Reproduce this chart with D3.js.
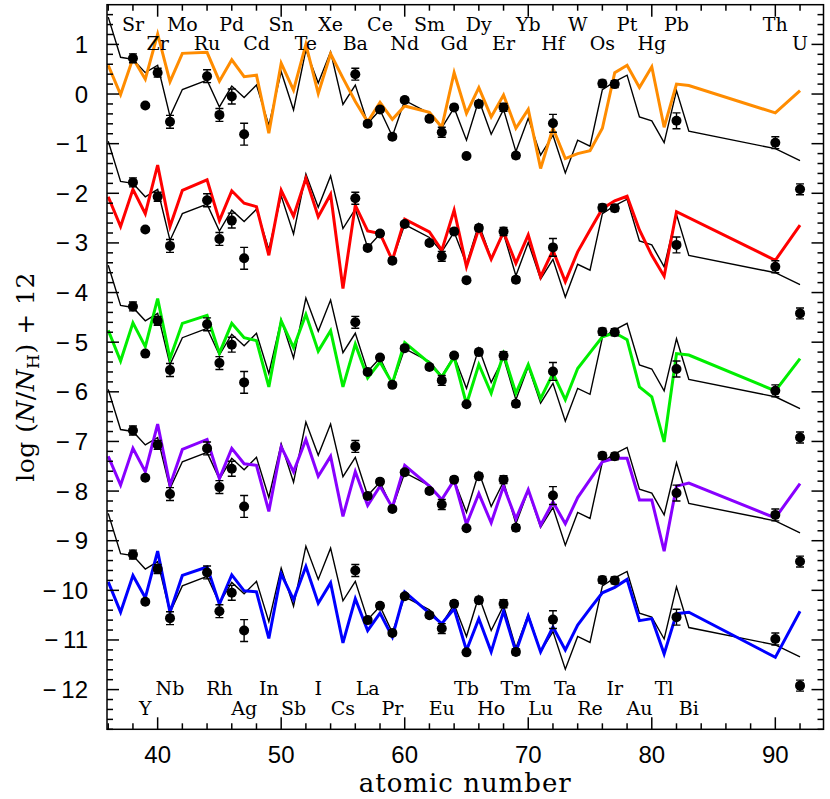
<!DOCTYPE html>
<html>
<head>
    <meta charset="utf-8">
    <style>
        body { margin: 0; background: #fff; }
    </style>
</head>
<body>
    <script src="https://d3js.org/d3.v7.min.js"></script>
    <div id="canvas"></div>

    <script type="text/javascript">

        // element labels along the top and bottom of the frame
        var labelsTop1 = [[38, "Sr"], [42, "Mo"], [46, "Pd"], [50, "Sn"], [54, "Xe"], [58, "Ce"], [62, "Sm"],
                          [66, "Dy"], [70, "Yb"], [74, "W"], [78, "Pt"], [82, "Pb"], [90, "Th"]];
        var labelsTop2 = [[40, "Zr"], [44, "Ru"], [48, "Cd"], [52, "Te"], [56, "Ba"], [60, "Nd"], [64, "Gd"],
                          [68, "Er"], [72, "Hf"], [76, "Os"], [80, "Hg"], [92, "U"]];
        var labelsBot1 = [[41, "Nb"], [45, "Rh"], [49, "In"], [53, "I"], [57, "La"], [65, "Tb"], [69, "Tm"],
                          [73, "Ta"], [77, "Ir"], [81, "Tl"]];
        var labelsBot2 = [[39, "Y"], [47, "Ag"], [51, "Sb"], [55, "Cs"], [59, "Pr"], [63, "Eu"], [67, "Ho"],
                          [71, "Lu"], [75, "Re"], [79, "Au"], [83, "Bi"]];

        // observed abundances (top panel values, others shifted by -2.5 each)
        var obsZ   = [38, 39, 40, 41, 44, 45, 46, 47, 56, 57, 58, 59, 60, 62, 63, 64, 65, 66, 68, 69, 72, 76, 77, 82, 90, 92];
        var obsVal = [0.72, -0.23, 0.43, -0.56, 0.36, -0.42, -0.05, -0.81, 0.40, -0.60, -0.31, -0.86, -0.12, -0.50,
                      -0.77, -0.27, -1.25, -0.20, -0.27, -1.24, -0.59, 0.21, 0.20, -0.54, -0.98, -1.92];
        var obsErr = [0.09, 0, 0.09, 0.13, 0.13, 0.13, 0.15, 0.22, 0.12, 0.05, 0.05, 0.05, 0.05, 0.05,
                      0.10, 0.06, 0, 0.06, 0.08, 0.06, 0.18, 0.07, 0.07, 0.16, 0.12, 0.11];

        // atomic numbers of the model curves
        var lineZ = [36, 37, 38, 39, 40, 41, 42, 44, 45, 46, 47, 48, 49, 50, 51, 52, 53, 54, 55, 56, 57, 58, 59, 60,
                     62, 63, 64, 65, 66, 67, 68, 69, 70, 71, 72, 73, 74, 75, 76, 77, 78, 79, 80, 81, 82, 83, 90, 92];

        // scaled solar r-process pattern (thin black line)
        var solarR = [1.55, 0.74, 0.70, 0.43, 0.58, -0.45, 0.09, 0.28, -0.26, 0.16, -0.07, 0.18, -0.63, 0.45, -0.32, 0.89,
                      0.22, 0.85, -0.21, 0.18, -0.59, -0.32, -0.85, -0.13, -0.39, -0.68, -0.28, -0.93, -0.12, -0.81,
                      -0.31, -1.16, -0.49, -1.23, -0.83, -1.59, -0.93, -1.05, 0.09, 0.25, 0.38, -0.46, -0.54, -0.98,
                      0.07, -0.75, -1.10, -1.34];

        // model curves (values before the -2.5 per panel shift)
        var modelOrange = [0.58, -0.01, 0.72, 0.30, 1.21, 0.25, 0.82, 0.84, 0.26, 0.69, 0.35, 0.38, -0.79, 0.62, 0.08, 1.00,
                           0.01, 0.81, 0.32, -0.15, -0.56, -0.17, -0.51, -0.24, -0.37, -0.67, 0.43, -0.39, 0.13, -0.46,
                           -0.02, -0.69, -0.31, -1.50, -0.69, -1.30, -1.20, -1.14, -0.69, 0.43, 0.58, 0.13, 0.55, -0.67,
                           0.20, 0.17, -0.38, 0.07];
        var modelRed = [0.43, -0.17, 0.58, 0.09, 1.07, -0.17, 0.56, 0.77, -0.05, 0.55, 0.30, 0.23, -0.75, 0.56, 0.04, 0.80,
                        0.03, 0.48, -1.42, 0.26, -0.26, -0.31, -0.85, -0.02, -0.28, -0.65, 0.16, -0.98, -0.21, -0.83,
                        -0.28, -0.91, -0.34, -1.18, -0.65, -1.28, -0.68, -0.24, 0.19, 0.35, 0.44, -0.24, -0.75, -1.17,
                        0.13, null, -0.85, -0.14];
        var modelGreen = [0.24, -0.38, 0.39, -0.09, 0.88, -0.33, 0.38, 0.54, -0.22, 0.38, 0.09, 0.03, -0.90, 0.43, -0.11, 0.56,
                          -0.18, 0.23, -0.90, -0.04, -0.72, -0.40, -0.83, -0.01, -0.42, -0.70, -0.30, -1.25, -0.45, -1.03,
                          -0.24, -1.03, -0.45, -1.14, -0.63, -1.16, -0.53, -0.21, 0.11, 0.19, 0.05, -0.90, -1.10, -2.01,
                          -0.23, -0.26, -0.98, -0.33];
        var modelPurple = [0.20, -0.38, 0.36, -0.11, 0.85, -0.38, 0.34, 0.54, -0.25, 0.36, 0.05, 0.02, -0.91, 0.39, -0.11, 0.54,
                           -0.20, 0.20, -1.01, -0.11, -0.79, -0.40, -0.83, 0.02, -0.40, -0.67, -0.28, -1.17, -0.55, -1.14,
                           -0.40, -1.06, -0.47, -1.19, -0.72, -1.16, -0.63, -0.27, 0.09, 0.16, 0.16, -0.68, -0.68, -1.71,
                           -0.40, -0.34, -1.04, -0.35];
        var modelBlue = [0.17, -0.44, 0.30, -0.15, 0.79, -0.44, 0.30, 0.47, -0.28, 0.31, -0.01, -0.03, -0.97, 0.33, -0.19, 0.48,
                         -0.26, 0.15, -1.06, -0.17, -0.81, -0.46, -0.94, -0.03, -0.46, -0.67, -0.37, -1.21, -0.57, -1.24,
                         -0.42, -1.24, -0.52, -1.24, -0.74, -1.20, -0.70, -0.37, -0.05, 0.06, 0.22, -0.61, -0.57, -1.28,
                         -0.47, -0.44, -1.35, -0.42];

        var models = [modelOrange, modelRed, modelGreen, modelPurple, modelBlue];
        var modelColors = ["#ff8c00", "#ff0000", "#00ee00", "#8800ff", "#0000ff"];
        var panelShift = -2.5;

        var xTicks = [40, 50, 60, 70, 80, 90];
        var yTicks = [1, 0, -1, -2, -3, -4, -5, -6, -7, -8, -9, -10, -11, -12];

        var width = 830, height = 799;
        var frame = {left: 107, right: 823.5, top: 4.7, bottom: 729.3};

        var svg = d3.select("#canvas")
                    .append("svg")
                    .attr("width", width)
                    .attr("height", height);

        var xscale = d3.scaleLinear().domain([35.9, 93.9]).range([frame.left, frame.right]);
        var yscale = d3.scaleLinear().domain([-12.8, 1.8]).range([frame.bottom, frame.top]);

        svg.append("clipPath").attr("id", "plotclip")
            .append("rect")
            .attr("x", frame.left).attr("y", frame.top)
            .attr("width", frame.right - frame.left).attr("height", frame.bottom - frame.top);

        var plot = svg.append("g").attr("clip-path", "url(#plotclip)");

        function rows(vals, shift) {
            var out = [];
            for (var i = 0; i < lineZ.length; i++) {
                if (vals[i] != null) out.push([lineZ[i], vals[i] + shift]);
            }
            return out;
        }

        var line = d3.line()
                    .x(function(d){ return xscale(d[0]); })
                    .y(function(d){ return yscale(d[1]); });

        // draw the five panels
        for (var k = 0; k < 5; k++) {
            var shift = panelShift * k;

            plot.append("path")
                .attr("d", line(rows(solarR, shift)))
                .attr("fill", "none")
                .attr("stroke", "black")
                .attr("stroke-width", 1.4)
                .attr("stroke-linejoin", "miter");

            plot.append("path")
                .attr("d", line(rows(models[k], shift)))
                .attr("fill", "none")
                .attr("stroke", modelColors[k])
                .attr("stroke-width", 3)
                .attr("stroke-linejoin", "miter");

            var obs = obsZ.map(function(z, i){ return [z, obsVal[i] + shift, obsErr[i]]; });
            var g = plot.append("g");
            g.selectAll(".eb")
                .data(obs.filter(function(d){ return d[2] > 0; }))
                .enter()
                .append("path")
                .attr("d", function(d){
                    var x = xscale(d[0]), y1 = yscale(d[1] + d[2]), y2 = yscale(d[1] - d[2]);
                    return "M" + (x - 4) + "," + y1 + "H" + (x + 4) + "M" + x + "," + y1 + "V" + y2 +
                           "M" + (x - 4) + "," + y2 + "H" + (x + 4);
                })
                .attr("stroke", "black")
                .attr("stroke-width", 1.4)
                .attr("fill", "none");
            g.selectAll("circle")
                .data(obs)
                .enter()
                .append("circle")
                .attr("cx", function(d){ return xscale(d[0]); })
                .attr("cy", function(d){ return yscale(d[1]); })
                .attr("r", 5)
                .attr("fill", "black");
        }

        // frame and ticks (inward, on all four sides)
        var axes = svg.append("g").attr("stroke", "black").attr("stroke-width", 1.5);
        d3.range(36, 94, 2).forEach(function(z){
            var len = (z % 10 == 0) ? 12 : 6;
            axes.append("line").attr("x1", xscale(z)).attr("x2", xscale(z))
                .attr("y1", frame.bottom).attr("y2", frame.bottom - len);
            axes.append("line").attr("x1", xscale(z)).attr("x2", xscale(z))
                .attr("y1", frame.top).attr("y2", frame.top + len);
        });
        d3.range(-64, 9).map(function(i){ return i / 5; }).forEach(function(v){
            var len = (Math.abs(v - Math.round(v)) < 1e-6) ? 12 : 6;
            axes.append("line").attr("x1", frame.left).attr("x2", frame.left + len)
                .attr("y1", yscale(v)).attr("y2", yscale(v));
            axes.append("line").attr("x1", frame.right).attr("x2", frame.right - len)
                .attr("y1", yscale(v)).attr("y2", yscale(v));
        });
        svg.append("rect")
            .attr("x", frame.left).attr("y", frame.top)
            .attr("width", frame.right - frame.left).attr("height", frame.bottom - frame.top)
            .attr("fill", "none")
            .attr("stroke", "black")
            .attr("stroke-width", 1.5);

        // tick labels
        svg.selectAll(".xt")
            .data(xTicks)
            .enter()
            .append("text")
            .attr("x", function(d){ return xscale(d); })
            .attr("y", 763)
            .attr("text-anchor", "middle")
            .style("font-family", "'Liberation Sans', sans-serif")
            .style("font-size", "24px")
            .text(function(d){ return d; });

        svg.selectAll(".yt")
            .data(yTicks)
            .enter()
            .append("text")
            .attr("x", 88)
            .attr("y", function(d){ return yscale(d) + 8.5; })
            .attr("text-anchor", "end")
            .style("font-family", "'Liberation Sans', sans-serif")
            .style("font-size", "24px")
            .text(function(d){ return d < 0 ? "\u2212\u2009" + Math.abs(d) : d; });

        // element symbols
        function drawLabels(list, y) {
            svg.append("g")
                .selectAll("text")
                .data(list)
                .enter()
                .append("text")
                .attr("x", function(d){ return xscale(d[0]); })
                .attr("y", y)
                .attr("text-anchor", "middle")
                .style("font-family", "'DejaVu Serif', serif")
                .style("font-size", "19px")
                .text(function(d){ return d[1]; });
        }
        drawLabels(labelsTop1, 30.5);
        drawLabels(labelsTop2, 50);
        drawLabels(labelsBot1, 695);
        drawLabels(labelsBot2, 715);

        // axis names
        svg.append("text")
            .attr("x", (frame.left + frame.right) / 2)
            .attr("y", 792)
            .attr("text-anchor", "middle")
            .style("font-family", "'DejaVu Serif', serif")
            .style("font-size", "26px")
            .style("letter-spacing", "1px")
            .text("atomic number");

        var ylab = svg.append("text")
            .attr("transform", "translate(34," + ((frame.top + frame.bottom) / 2 + 10) + ") rotate(-90)")
            .attr("text-anchor", "middle")
            .style("font-family", "'DejaVu Serif', serif")
            .style("font-size", "25px")
            .style("letter-spacing", "0.5px");
        ylab.append("tspan").text("log (");
        ylab.append("tspan").style("font-style", "italic").text("N");
        ylab.append("tspan").text("/");
        ylab.append("tspan").style("font-style", "italic").text("N");
        ylab.append("tspan").attr("dy", 5).style("font-size", "17px").text("H");
        ylab.append("tspan").attr("dy", -5).text(") + 12");

    </script>
</body>
</html>
